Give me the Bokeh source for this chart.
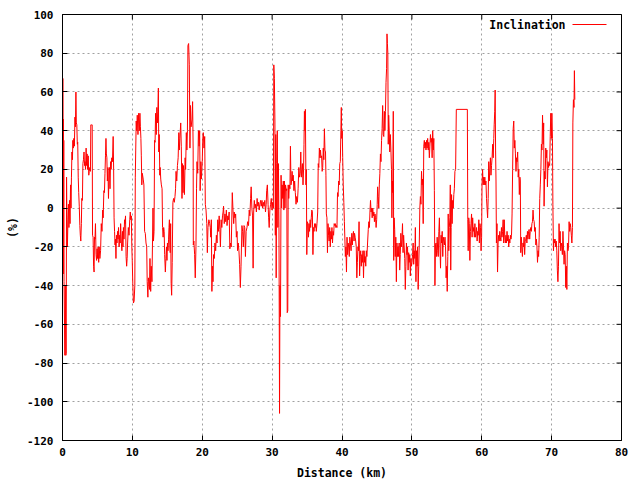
from bokeh.plotting import figure
from bokeh.models import Range1d, FixedTicker, Label, Arrow
from bokeh.embed import file_html
from bokeh.resources import INLINE
import math

# ---- data ----
distance_km = [
0.08,0.10,0.12,0.15,0.18,0.22,0.34,0.40,0.48,0.53,0.58,0.63,0.70,0.78,0.85,0.92,1.00,1.08,1.15,1.22,
1.28,1.35,1.42,1.48,1.55,1.62,1.70,1.78,1.85,1.92,1.98,2.05,2.12,2.18,2.25,2.32,2.40,2.48,2.55,2.62,
2.70,2.76,2.85,2.92,3.00,3.08,3.15,3.22,3.30,3.38,3.45,3.52,3.60,3.68,3.76,3.83,3.90,4.00,4.05,4.15,
4.25,4.30,4.38,4.45,4.52,4.58,4.65,4.72,4.80,4.88,4.95,5.02,5.10,5.18,5.25,5.35,5.45,5.55,5.65,5.75,
5.82,5.92,6.00,6.08,6.15,6.22,6.28,6.35,6.42,6.50,6.58,6.66,6.72,6.80,6.88,6.95,7.05,7.15,7.25,7.32,
7.38,7.45,7.52,7.58,7.65,7.72,7.80,7.88,7.95,8.02,8.10,8.18,8.25,8.32,8.42,8.50,8.58,8.65,8.72,8.80,
8.88,8.95,9.02,9.10,9.18,9.25,9.32,9.42,9.52,9.62,9.70,9.78,9.85,
9.92,9.98,10.06,10.15,10.25,10.35,10.42,10.48,10.55,10.62,10.70,10.80,10.90,11.00,11.08,11.15,11.22,11.28,11.35,11.42,
11.55,11.65,11.75,11.85,11.95,12.05,12.12,12.22,12.30,12.38,12.45,12.52,12.62,12.70,12.80,12.95,13.02,13.10,13.18,13.25,
13.32,13.42,13.50,13.58,13.65,13.72,13.78,13.85,13.92,13.98,14.06,14.15,14.25,14.32,14.40,14.48,14.55,14.62,14.72,14.80,
14.88,14.95,15.02,15.10,15.18,15.24,15.30,15.36,15.42,15.48,15.55,15.62,15.70,15.80,15.90,16.00,16.10,16.18,16.25,16.35,
16.45,16.55,16.65,16.72,16.80,16.86,16.92,17.00,17.10,17.18,17.25,17.32,17.40,17.45,17.55,17.62,17.72,17.80,17.88,
17.95,18.05,18.15,18.24,18.32,18.40,18.55,18.62,18.70,18.72,18.80,18.91,19.00,19.10,19.18,19.25,19.35,19.45,19.55,19.63,
19.70,19.80,19.87,20.00,20.08,20.15,20.25,20.35,20.44,20.54,20.65,20.73,20.82,20.95,21.06,
21.15,21.22,21.30,21.38,21.45,21.54,21.62,21.72,21.82,21.92,22.02,22.12,22.22,22.32,22.42,22.52,22.60,22.70,22.80,22.90,
22.98,23.05,23.15,23.25,23.35,23.45,23.55,23.65,23.75,23.85,23.95,24.05,24.15,24.30,24.40,24.50,24.58,24.68,24.78,24.88,
24.98,25.05,25.15,25.25,25.35,25.45,25.55,25.68,25.78,25.88,25.98,26.08,26.18,26.28,26.40,26.50,26.62,26.72,26.82,26.92,
27.00,27.10,27.20,27.28,27.36,27.45,27.55,27.65,27.75,27.85,27.95,28.05,28.15,28.25,28.35,28.45,28.55,28.65,28.75,28.85,
28.95,29.05,29.15,29.22,29.32,29.42,29.50,29.58,29.68,29.78,29.88,29.98,30.08,30.18,30.24,30.32,30.40,30.46,30.52,30.58,
30.66,30.74,30.82,30.90,30.98,31.06,31.12,31.20,31.28,31.36,31.44,31.52,31.60,31.68,
31.76,31.84,31.92,32.02,32.10,32.16,32.24,32.30,32.38,32.46,32.55,32.62,32.70,32.78,32.86,32.94,33.02,33.12,33.22,33.32,
33.42,33.52,33.62,33.72,33.82,33.92,34.02,34.10,34.18,34.26,34.34,34.42,34.50,34.56,34.62,34.70,34.76,34.84,34.90,34.96,
35.04,35.12,35.20,35.28,35.36,35.44,35.52,35.60,35.68,35.76,35.84,35.92,36.00,36.08,36.16,36.24,36.32,36.42,36.52,36.60,
36.68,36.76,36.84,36.92,37.00,37.08,37.16,37.24,37.32,37.40,37.48,37.56,37.64,37.70,37.76,37.84,37.92,38.00,38.08,38.16,
38.24,38.32,38.40,38.48,38.56,38.64,38.72,38.80,38.88,38.96,39.04,39.12,39.20,39.28,39.36,39.44,39.52,39.60,39.68,39.76,
39.84,39.90,39.96,40.04,40.10,40.18,40.26,40.34,40.42,40.48,40.56,40.64,40.72,40.80,40.88,40.96,41.04,41.12,41.20,41.30,
41.40,41.48,41.56,41.64,41.72,41.80,41.88,41.96,42.04,42.12,42.20,42.28,42.36,42.44,42.52,42.60,
42.68,42.76,42.84,42.92,43.00,43.08,43.16,43.24,43.32,43.40,43.48,43.56,43.66,43.76,43.84,43.92,44.00,44.08,44.16,44.24,
44.32,44.40,44.48,44.56,44.64,44.72,44.80,44.88,44.96,45.04,45.10,45.18,45.26,45.34,45.42,45.50,45.58,45.66,45.74,45.82,
45.90,45.98,46.06,46.14,46.22,46.30,46.38,46.44,46.50,46.56,46.62,46.68,46.76,46.84,46.92,47.00,47.08,47.14,47.20,47.26,
47.34,47.40,47.46,47.54,47.62,47.70,47.78,47.86,47.94,48.02,48.10,48.18,48.26,48.34,48.42,48.50,48.58,48.66,48.74,48.82,
48.90,48.98,49.06,49.14,49.22,49.30,49.38,49.46,49.54,49.62,49.70,49.78,49.86,49.94,50.02,50.10,50.18,50.26,50.34,50.42,
50.50,50.58,50.66,50.74,50.82,50.90,50.98,51.06,51.14,51.22,51.30,51.38,51.46,51.54,51.62,51.70,51.78,51.86,51.94,52.02,
52.10,52.18,52.26,52.34,52.42,52.50,52.58,52.66,52.74,52.82,52.90,52.98,53.06,53.14,53.22,53.30,53.38,
53.46,53.54,53.62,53.70,53.78,53.86,53.94,54.02,54.10,54.18,54.26,54.34,54.42,54.50,54.58,54.66,54.74,54.82,54.90,54.98,
55.06,55.14,55.20,55.28,55.36,55.44,55.50,55.56,55.62,55.68,55.76,55.84,55.92,56.00,56.08,56.16,56.26,56.36,57.94,58.00,
58.06,58.14,58.22,58.30,58.38,58.46,58.54,58.62,58.70,58.78,58.86,58.94,59.02,59.10,59.18,59.26,59.34,59.42,59.50,59.58,
59.66,59.74,59.82,59.90,59.98,60.04,60.12,60.20,60.28,60.36,60.44,60.52,60.60,60.68,60.76,60.84,60.92,61.00,61.08,61.16,
61.24,61.32,61.40,61.48,61.56,61.64,61.72,61.78,61.86,61.92,61.98,62.04,62.10,62.18,62.26,62.34,62.42,62.50,62.58,62.66,
62.74,62.82,62.90,62.98,63.06,63.14,63.22,63.30,63.38,63.46,63.54,63.62,63.70,
63.78,63.86,63.94,64.02,64.10,64.18,64.26,64.34,64.42,64.50,64.58,64.66,64.74,64.82,64.90,64.98,65.06,65.14,65.22,65.30,
65.38,65.46,65.52,65.58,65.66,65.74,65.82,65.90,65.98,66.06,66.14,66.22,66.30,66.38,66.46,66.54,66.62,66.70,66.78,66.86,
66.94,67.02,67.10,67.18,67.26,67.34,67.42,67.50,67.58,67.66,67.74,67.82,67.90,67.98,68.06,68.14,68.22,68.30,68.38,68.46,
68.54,68.62,68.70,68.78,68.86,68.92,69.00,69.08,69.16,69.24,69.32,69.40,69.48,69.56,69.64,69.72,69.80,69.88,69.96,70.04,
70.12,70.18,70.26,70.34,70.42,70.50,70.58,70.66,70.74,70.82,70.90,70.98,71.06,71.14,71.22,71.30,71.38,71.46,71.54,71.62,
71.70,71.78,71.86,71.94,72.02,72.10,72.18,72.26,72.34,72.42,72.50,72.58,72.66,72.74,72.82,72.90,72.98,73.04,73.12,73.20,
73.26,73.32,
]

inclination_pct = [
67,6,46,-34,35,-38,-76,-40,-76,-75,16,-5,-20,-6,2,-10,4,-8,12,0,
16,29,25,35,31,36,32,47,42,60,44,43,33,34,16,8,1,-9,-14,-17,
-8,5,4,23,25,29,22,24,20,31,22,28,20,27,17,19,21,19,43,43,
43,-14,-15,-30,-33,-15,-16,-8,-24,-27,-21,-26,-20,-28,-20,-26,-22,-8,-12,-1,
-5,9,8,18,27,36,28,26,14,21,5,18,21,10,24,20,26,24,37,20,
-5,-12,-19,-16,-26,-14,-18,-12,-16,-10,-20,-14,-18,-8,-18,-22,-12,-20,-10,-16,
-6,-8,-4,-25,-30,-26,-18,-10,-14,-6,-2,-6,-4,
-20,-27,-39,-49,-48,-40,16,30,45,40,48,38,49,40,49,42,36,27,12,18,
15,12,-12,-13,-18,-20,-38,-46,-36,-38,-42,-26,-43,-30,-38,0,-17,-12,35,34,
49,38,52,44,50,62,29,38,17,21,15,12,10,-10,-15,-10,-12,-24,-33,-26,
-20,-27,-18,-22,-16,-10,-6,-20,-23,-8,-39,-45,-28,3,5,3,6,10,19,14,
22,26,39,30,36,40,44,32,5,23,8,22,12,7,26,20,39,30,40,
84,85,74,31,53,42,46,55,30,-19,-17,-24,-36,-20,10,24,18,40,32,40,
9,24,15,24,36,39,31,37,2,-1,-8,-23,-10,-6,-8,
-10,-15,-6,-43,-30,-38,-24,-26,-18,-22,-14,-18,-6,-12,-4,-11,-20,-6,-10,-4,
-2,1,-8,-3,-7,-1,-9,-4,-6,-2,-21,-18,-20,8,-1,-8,-2,-5,-3,-15,
-12,-22,-18,-22,-29,-41,-30,-9,-12,-20,-9,-10,-25,-12,-10,-7,-9,-1,-4,5,
11,0,-4,-31,-2,4,0,2,-2,5,1,3,-1,2,4,1,4,0,3,1,
4,-2,2,9,12,2,-5,-10,-1,2,5,-1,3,0,74,67,45,-14,38,-36,
23,40,-10,23,-10,-106,-40,-56,17,0,12,5,14,-1,
14,0,12,9,10,-54,-53,12,5,12,10,32,12,14,19,14,17,9,14,8,
2,6,3,10,21,16,18,29,16,20,23,12,20,33,50,40,51,12,20,-24,
-7,-8,-15,-8,-12,-6,-10,-5,-1,-2,-24,-10,-12,-8,-10,-8,-12,-8,-2,23,
21,31,26,30,26,27,19,21,31,25,41,30,29,17,-3,-5,-23,-8,-14,-17,
-10,-20,-12,-16,-10,-18,-12,-14,-8,-9,-8,-10,-9,-10,8,6,14,12,23,24,
40,52,36,40,26,12,3,-7,-17,-25,-20,-33,-15,-24,-18,-20,-25,-15,-18,-22,
-13,-19,-14,-12,-17,-13,-15,-17,-20,-36,-28,-20,-22,-7,-35,-25,
-22,-30,-24,-28,-22,-36,-22,-28,-25,-30,-22,-25,-18,-11,-7,-10,-2,4,-2,0,
-5,0,-4,-2,-7,-3,-5,-10,-6,2,11,6,0,12,18,28,24,35,41,53,
38,37,50,40,50,65,72,90,85,80,33,48,40,29,38,30,20,-5,14,8,
50,-27,-5,-11,-25,-15,-38,-18,-25,-20,-25,-18,-32,-24,-13,-20,-16,-8,-23,-14,
-20,-26,-42,-30,-18,-24,-20,-32,-23,-28,-24,-35,-26,-30,-28,-24,-18,-29,-22,-26,
-10,-38,-22,-30,-20,-42,-30,-18,0,6,2,19,12,15,-8,32,35,31,34,30,
35,31,36,30,34,26,32,38,34,36,26,40,30,36,9,-40,-19,
-18,-25,-15,-22,-25,-12,-5,-20,-31,-14,-18,-12,-25,-15,-17,-19,-15,-20,-36,-30,
-43,-25,-3,-22,-10,-5,12,-32,-10,7,-8,4,0,7,10,19,20,51,51,-6,
-22,-5,-8,-27,-12,-8,-3,-15,-5,-12,-10,-15,-8,-15,-13,-10,-17,-12,-14,-6,
-18,-8,-10,-22,-15,12,20,12,16,12,16,12,14,5,0,-5,5,24,14,20,
26,17,22,26,33,26,36,43,50,61,30,14,-18,-8,-33,-18,-14,-17,-12,-15,
-17,-10,-15,-12,-6,-18,-6,-15,-18,-14,-18,-12,-17,
-14,-20,-16,-18,-14,-16,-14,-3,20,41,45,31,35,28,19,26,24,29,16,20,
7,16,14,-23,-15,-20,-25,-18,-20,-15,-24,-17,-16,-14,-18,-12,-16,-12,-11,-16,
-12,-10,-12,-8,-7,-1,-6,-7,-12,-10,-19,-16,-20,-28,-22,-25,-15,5,12,20,
33,30,48,33,44,1,19,15,31,26,30,11,24,21,23,22,37,49,36,49,
36,2,-22,-16,-18,-16,-20,-17,-22,-32,-38,-30,-8,-18,-12,-22,-18,-20,-24,-12,
-20,-29,-22,-24,-41,-30,-42,-18,-22,-20,-7,-12,-8,-10,-14,-18,-10,44,56,52,
71,56,
]

x_ticks = [0, 10, 20, 30, 40, 50, 60, 70, 80]
x_tick_labels = ["0", "10", "20", "30", "40", "50", "60", "70", "80"]
y_ticks = [-120, -100, -80, -60, -40, -20, 0, 20, 40, 60, 80, 100]
y_tick_labels = ["-120", "-100", "-80", "-60", "-40", "-20", "0", "20", "40", "60", "80", "100"]
series_name = "Inclination"
x_title = "Distance (km)"
y_title = "(%)"

FONT = "DejaVu Sans Mono"
FS = "11px"
FS_T = "11.5px"

X_MIN, X_MAX = 0, 80
Y_MIN, Y_MAX = -120, 100

p = figure(frame_width=559, frame_height=426,
           x_range=Range1d(X_MIN, X_MAX), y_range=Range1d(Y_MIN, Y_MAX),
           output_backend="svg", toolbar_location=None,
           min_border_left=62, min_border_right=11, min_border_top=14, min_border_bottom=32,
           background_fill_color="white", border_fill_color="white")

p.line(distance_km, inclination_pct, line_color="#ff0000", line_width=1)

p.outline_line_color = "black"
p.outline_line_width = 1

for ax, ticks, labels in ((p.xaxis[0], x_ticks, x_tick_labels), (p.yaxis[0], y_ticks, y_tick_labels)):
    ax.ticker = FixedTicker(ticks=ticks)
    ax.major_label_overrides = {t: l for t, l in zip(ticks, labels)}
    ax.major_tick_in = 5
    ax.major_tick_out = 0
    ax.minor_tick_line_color = None
    ax.major_tick_line_color = "black"
    ax.axis_line_color = "black"
    ax.major_label_text_font = FONT
    ax.major_label_text_font_size = FS
    ax.major_label_text_font_style = "bold"
    ax.major_label_text_color = "black"
    ax.axis_label_text_font = FONT
    ax.axis_label_text_font_size = FS_T
    ax.axis_label_text_font_style = "bold"
    ax.axis_label_text_color = "black"

p.xaxis[0].axis_label = x_title
p.yaxis[0].axis_label = y_title
p.xaxis[0].major_label_standoff = 7
p.xaxis[0].axis_label_standoff = 7
p.yaxis[0].major_label_standoff = 9
p.yaxis[0].axis_label_standoff = 4

# mirrored tick marks on the right and top borders (clipped to the frame)
p.scatter([X_MAX] * len(y_ticks), y_ticks, marker="dash", size=10,
          line_color="black", line_width=1)
p.scatter(x_ticks, [Y_MAX] * len(x_ticks), marker="dash", size=10, angle=math.pi / 2,
          line_color="black", line_width=1)

for g in (p.xgrid[0], p.ygrid[0]):
    g.grid_line_color = "#a0a0a0"
    g.grid_line_dash = "2 3"
    g.grid_line_width = 1

# legend (label left of sample, as in the reference)
p.add_layout(Label(x=503, y=416, x_units="screen", y_units="screen", text=series_name,
                   text_align="right", text_baseline="middle", text_font=FONT,
                   text_font_size=FS_T, text_font_style="bold", text_color="black"))
p.add_layout(Arrow(end=None, x_start=510, y_start=416, x_end=544, y_end=416,
                   start_units="screen", end_units="screen", line_color="#ff0000", line_width=1))

open("out.html", "w").write(file_html(p, INLINE))
